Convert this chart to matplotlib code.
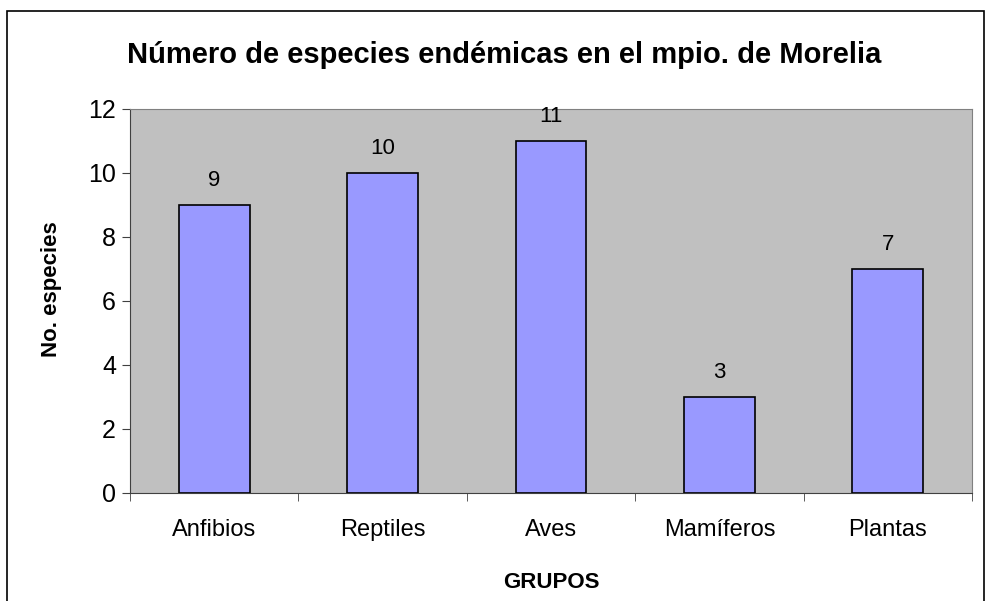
import matplotlib
matplotlib.use("Agg")
import matplotlib.pyplot as plt
from matplotlib.patches import Rectangle
import numpy as np

plt.rcParams['font.family'] = ['Liberation Sans', 'DejaVu Sans']

grupos = ["Anfibios", "Reptiles", "Aves", "Mamíferos", "Plantas"]
especies = [9, 10, 11, 3, 7]

fig = plt.figure(figsize=(9.86, 6.01), dpi=100)
fig.patch.set_facecolor("white")

# outer chart border (bottom runs past the image edge)
fig.patches.append(Rectangle((7 / 986, -0.05), 977 / 986, 1.05 - 11 / 601,
                             transform=fig.transFigure, fill=False,
                             edgecolor="black", linewidth=1.2))

ax = fig.add_axes([130 / 986, 1 - 493 / 601, 842 / 986, 384 / 601])
ax.set_facecolor("#C0C0C0")

x = np.arange(len(grupos))
ax.bar(x, especies, width=0.42, color="#9999FF", edgecolor="black", linewidth=1.2, zorder=3)

for xi, v in zip(x, especies):
    ax.text(xi, v + 0.45, str(v), ha="center", va="bottom", fontsize=16)

ax.set_xlim(-0.5, len(grupos) - 0.5)
ax.set_ylim(0, 12)
ax.set_yticks(range(0, 13, 2))
ax.tick_params(axis="y", labelsize=18, length=6, direction="out", color="#404040", pad=4)

ax.set_xticks(x)
ax.set_xticklabels(grupos, fontsize=17)
ax.set_xticks(np.arange(-0.5, len(grupos), 1.0), minor=True)
ax.tick_params(axis="x", which="major", length=0, pad=19)
ax.tick_params(axis="x", which="minor", length=6, direction="out", color="#404040")

for side in ["top", "right"]:
    ax.spines[side].set_color("#808080")
for side in ["left", "bottom"]:
    ax.spines[side].set_color("#404040")

ax.set_ylabel("No. especies", fontsize=16, fontweight="bold")
ax.yaxis.set_label_coords(-0.081, 0.53)
ax.set_xlabel("GRUPOS", fontsize=16, fontweight="bold", labelpad=22)

fig.text(504 / 986, 1 - 55 / 601, "Número de especies endémicas en el mpio. de Morelia",
         ha="center", va="center", fontsize=21, fontweight="bold")

fig.savefig("out.png", dpi=100)
